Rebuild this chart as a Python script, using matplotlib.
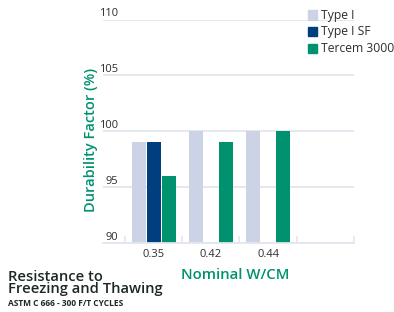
import numpy as np
import matplotlib
matplotlib.use("Agg")
import matplotlib.pyplot as plt
from matplotlib.patches import Rectangle

plt.rcParams['font.family'] = ['Open Sans', 'DejaVu Sans']

categories = ["0.35", "0.42", "0.44", ""]
series_names = ["Type I", "Type I SF", "Tercem 3000"]
type_i = [99, 100, 100, np.nan]
type_i_sf = [99, np.nan, np.nan, np.nan]
tercem = [96, 99, 100, np.nan]
y_ticks = [90, 95, 100, 105, 110]

colors = ["#cdd3e6", "#003f7d", "#00926f"]
green = "#00926f"
text_col = "#2e2e2e"
grid_col = "#e3e6ed"

W, H = 394, 312
fig = plt.figure(figsize=(W / 100, H / 100), dpi=100)
ax = fig.add_axes([103 / W, (H - 243) / H, (354 - 103) / W, (243 - 19.5) / H])

x = np.arange(len(categories))
bw = 0.245
off = 0.262
for i, (vals, c) in enumerate(zip([type_i, type_i_sf, tercem], colors)):
    ax.bar(x + (i - 1) * off, vals, width=bw, color=c, zorder=2, label=series_names[i])

ax.set_xlim(-0.884, 3.5)
ax.set_ylim(90, 110)

for s in ["top", "right", "left"]:
    ax.spines[s].set_visible(False)
ax.spines["bottom"].set_color(grid_col)
ax.spines["bottom"].set_linewidth(1.3)

ax.set_yticks(y_ticks)
ax.yaxis.grid(True, color=grid_col, linewidth=1.3)
ax.set_axisbelow(True)
ax.tick_params(axis="y", left=False, labelleft=False)

for v in y_ticks:
    ax.text(-0.622, v, str(v), ha="right", va="bottom", fontsize=8, color=text_col,
            transform=ax.transData)

ax.set_xticks(x[:3])
ax.set_xticklabels(categories[:3], fontsize=8, color=text_col)
ax.tick_params(axis="x", which="major", length=0, pad=4.5)
ax.set_xticks(np.arange(-0.5, 4.0, 1.0), minor=True)
ax.tick_params(axis="x", which="minor", direction="in", length=5, color=grid_col, width=1.2)

fig.text(91 / W, 1 - 140 / H, "Durability Factor (%)", rotation=90, ha="center", va="center",
         fontsize=10.5, color=green, fontweight="semibold")
fig.text(235.5 / W, 1 - 275 / H, "Nominal W/CM", ha="center", va="center",
         fontsize=10.7, color=green, fontweight="semibold")

fig.text(7.5 / W, 1 - 283 / H, "Resistance to\nFreezing and Thawing", ha="left", va="center",
         fontsize=10.6, color="#1c2826", linespacing=0.8, fontweight="semibold")
fig.text(7.5 / W, 1 - 304 / H, "ASTM C 666 - 300 F/T CYCLES", ha="left", va="center",
         fontsize=6, color="#1c2826", fontweight="bold")

# legend
leg_y = [15, 31.5, 48]
for name, c, yy in zip(series_names, colors, leg_y):
    fig.patches.append(Rectangle((308 / W, 1 - (yy + 4.5) / H), 9 / W, 9 / H,
                                 transform=fig.transFigure, color=c, figure=fig))
    fig.text(321 / W, 1 - yy / H, name, ha="left", va="center", fontsize=8.7, color=text_col)

fig.savefig("out.png", dpi=100)
